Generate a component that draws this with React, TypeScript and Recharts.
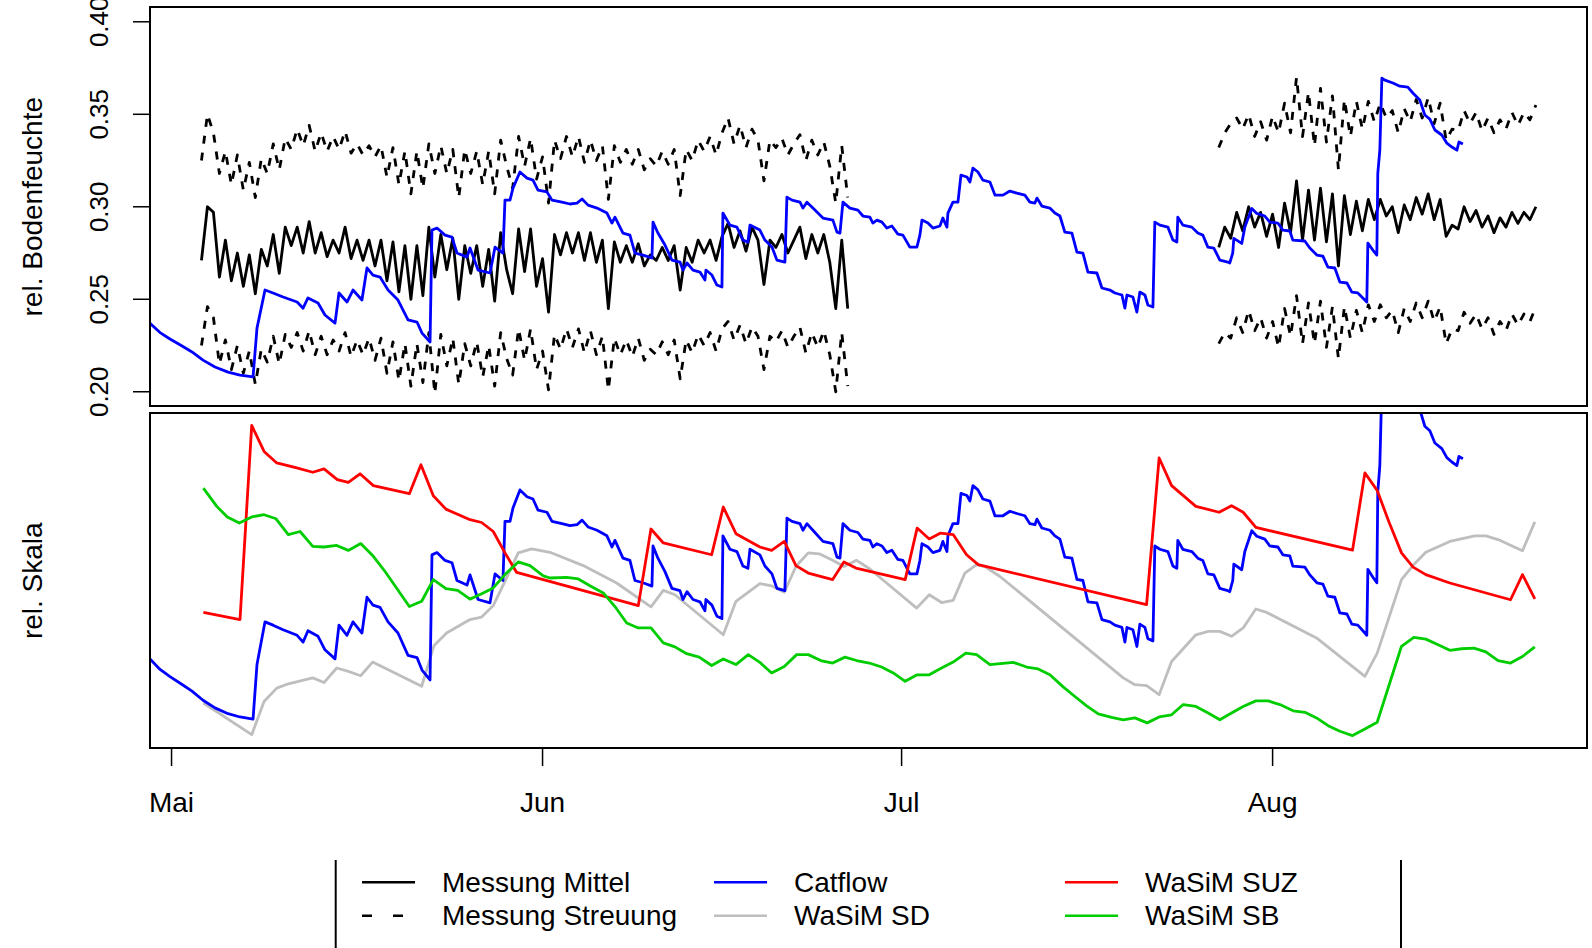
import React from 'react';
import { LineChart, Line, XAxis, YAxis } from 'recharts';

const FONT = '"Liberation Sans", Arial, Helvetica, sans-serif';

// x = days since 1 May
const monthTicks = [0, 31, 61, 92];
const monthLabels = ['Mai', 'Jun', 'Jul', 'Aug'];
const bodenTicks = [0.2, 0.25, 0.3, 0.35, 0.4];

// measurements, half-day steps
const mess1Start = 2.5;
const mittel1 = [
  0.271, 0.300, 0.297, 0.262, 0.282, 0.260, 0.275, 0.257, 0.274, 0.253,
  0.277, 0.268, 0.285, 0.264, 0.289, 0.279, 0.289, 0.275, 0.292, 0.275,
  0.286, 0.273, 0.282, 0.275, 0.289, 0.272, 0.282, 0.271, 0.282, 0.268,
  0.282, 0.260, 0.281, 0.254, 0.279, 0.250, 0.279, 0.252, 0.289, 0.262,
  0.285, 0.266, 0.283, 0.250, 0.279, 0.264, 0.279, 0.257, 0.277, 0.249,
  0.286, 0.266, 0.253, 0.288, 0.265, 0.288, 0.257, 0.272, 0.243, 0.285,
  0.274, 0.286, 0.275, 0.286, 0.271, 0.286, 0.270, 0.282, 0.245, 0.281,
  0.270, 0.279, 0.270, 0.280, 0.268, 0.274, 0.271, 0.278, 0.271, 0.279,
  0.255, 0.278, 0.270, 0.282, 0.275, 0.282, 0.271, 0.284, 0.291, 0.278,
  0.287, 0.276, 0.289, 0.282, 0.258, 0.282, 0.278, 0.285, 0.275, 0.282,
  0.289, 0.272, 0.285, 0.275, 0.285, 0.270, 0.245, 0.282, 0.245,
];
const oben1 = [
  0.325, 0.350, 0.340, 0.318, 0.330, 0.312, 0.328, 0.309, 0.324, 0.305,
  0.326, 0.318, 0.334, 0.320, 0.337, 0.331, 0.342, 0.333, 0.344, 0.330,
  0.340, 0.330, 0.338, 0.331, 0.341, 0.329, 0.334, 0.328, 0.333, 0.327,
  0.333, 0.316, 0.332, 0.312, 0.330, 0.307, 0.330, 0.310, 0.334, 0.318,
  0.333, 0.318, 0.331, 0.305, 0.331, 0.318, 0.330, 0.312, 0.330, 0.307,
  0.336, 0.322, 0.310, 0.338, 0.322, 0.337, 0.315, 0.327, 0.302, 0.336,
  0.326, 0.338, 0.327, 0.338, 0.324, 0.336, 0.325, 0.333, 0.304, 0.333,
  0.324, 0.331, 0.323, 0.331, 0.320, 0.326, 0.322, 0.330, 0.323, 0.331,
  0.306, 0.331, 0.325, 0.336, 0.330, 0.338, 0.328, 0.340, 0.348, 0.334,
  0.344, 0.332, 0.342, 0.336, 0.314, 0.336, 0.332, 0.337, 0.328, 0.334,
  0.339, 0.325, 0.336, 0.328, 0.335, 0.322, 0.302, 0.333, 0.305,
];
const unten1 = [
  0.225, 0.246, 0.240, 0.215, 0.228, 0.212, 0.225, 0.210, 0.222, 0.204,
  0.223, 0.216, 0.230, 0.215, 0.231, 0.224, 0.232, 0.222, 0.233, 0.220,
  0.230, 0.220, 0.228, 0.222, 0.232, 0.219, 0.228, 0.220, 0.229, 0.217,
  0.229, 0.210, 0.227, 0.206, 0.226, 0.203, 0.226, 0.205, 0.232, 0.199,
  0.231, 0.214, 0.229, 0.204, 0.226, 0.214, 0.227, 0.208, 0.225, 0.203,
  0.232, 0.218, 0.209, 0.234, 0.217, 0.234, 0.212, 0.222, 0.201, 0.231,
  0.223, 0.234, 0.224, 0.234, 0.221, 0.233, 0.220, 0.230, 0.201, 0.229,
  0.220, 0.228, 0.219, 0.229, 0.217, 0.223, 0.220, 0.227, 0.220, 0.228,
  0.207, 0.228, 0.221, 0.231, 0.225, 0.232, 0.222, 0.234, 0.238, 0.228,
  0.236, 0.226, 0.235, 0.230, 0.212, 0.230, 0.227, 0.233, 0.224, 0.230,
  0.235, 0.221, 0.232, 0.224, 0.233, 0.220, 0.200, 0.232, 0.203,
];

const mess2Start = 87.5;
const mittel2 = [
  0.278, 0.289, 0.283, 0.297, 0.287, 0.300, 0.289, 0.297, 0.284, 0.296,
  0.278, 0.302, 0.286, 0.314, 0.282, 0.309, 0.282, 0.310, 0.281, 0.307,
  0.268, 0.306, 0.285, 0.303, 0.287, 0.304, 0.293, 0.304, 0.295, 0.300,
  0.286, 0.301, 0.293, 0.305, 0.296, 0.307, 0.293, 0.304, 0.284, 0.290,
  0.288, 0.300, 0.292, 0.298, 0.289, 0.295, 0.286, 0.294, 0.289, 0.297,
  0.291, 0.297, 0.293, 0.300,
];
const oben2 = [
  0.332, 0.340, 0.345, 0.348, 0.342, 0.350, 0.338, 0.346, 0.336, 0.349,
  0.340, 0.356, 0.340, 0.370, 0.338, 0.362, 0.333, 0.364, 0.335, 0.360,
  0.320, 0.358, 0.338, 0.357, 0.342, 0.357, 0.346, 0.356, 0.348, 0.352,
  0.340, 0.353, 0.346, 0.358, 0.348, 0.359, 0.345, 0.356, 0.336, 0.342,
  0.341, 0.352, 0.345, 0.351, 0.341, 0.348, 0.340, 0.347, 0.342, 0.351,
  0.344, 0.351, 0.347, 0.355,
];
const unten2 = [
  0.226, 0.232, 0.229, 0.240, 0.232, 0.244, 0.233, 0.240, 0.229, 0.238,
  0.224, 0.245, 0.230, 0.252, 0.226, 0.248, 0.226, 0.249, 0.224, 0.246,
  0.218, 0.246, 0.229, 0.244, 0.232, 0.247, 0.238, 0.247, 0.240, 0.244,
  0.232, 0.245, 0.238, 0.248, 0.240, 0.249, 0.238, 0.246, 0.226, 0.234,
  0.233, 0.243, 0.237, 0.242, 0.234, 0.240, 0.231, 0.238, 0.233, 0.242,
  0.236, 0.242, 0.238, 0.246,
];

// Catflow [day, rel. Bodenfeuchte]
const catflow = [
  [-1.80, 0.237], [-0.96, 0.232], [-0.13, 0.2285], [0.88, 0.2247], [1.71, 0.2215], [2.63, 0.2171],
  [3.63, 0.2134], [4.72, 0.2106], [5.72, 0.209], [6.81, 0.208], [7.14, 0.2344], [7.81, 0.255],
  [8.48, 0.2534], [9.32, 0.2512], [10.49, 0.2485], [10.99, 0.2452], [11.40, 0.2507], [12.24, 0.248],
  [12.82, 0.2415], [13.66, 0.2371], [13.99, 0.2534], [14.66, 0.2485], [15.16, 0.255], [15.91, 0.2496],
  [16.33, 0.2669], [16.83, 0.2631], [17.42, 0.262], [18.09, 0.255], [18.92, 0.2496], [19.76, 0.2388],
  [20.51, 0.2377], [20.93, 0.2317], [21.60, 0.2269], [21.76, 0.2874], [22.18, 0.2885], [22.85, 0.2847],
  [23.43, 0.2836], [23.85, 0.275], [24.69, 0.2728], [24.94, 0.2777], [25.61, 0.2658], [26.61, 0.2642],
  [27.03, 0.2782], [27.69, 0.275], [27.86, 0.3036], [28.28, 0.3036], [28.53, 0.3101], [29.11, 0.3188],
  [29.70, 0.3155], [30.20, 0.3144], [30.62, 0.309], [31.37, 0.308], [31.79, 0.3036], [32.62, 0.3025],
  [33.29, 0.3015], [33.88, 0.302], [34.30, 0.3042], [34.80, 0.3009], [35.55, 0.2993], [36.38, 0.2966],
  [36.80, 0.2912], [37.05, 0.2944], [37.72, 0.2858], [38.30, 0.2847], [38.72, 0.275], [39.39, 0.2739],
  [40.14, 0.2723], [40.23, 0.2917], [40.64, 0.2858], [41.23, 0.2793], [41.81, 0.2712], [42.48, 0.2701],
  [42.73, 0.2658], [43.07, 0.2696], [43.57, 0.2658], [44.15, 0.2647], [44.57, 0.2604], [44.65, 0.2658],
  [45.15, 0.2631], [45.57, 0.2577], [45.99, 0.2566], [46.07, 0.2966], [46.66, 0.2901], [47.24, 0.289],
  [47.74, 0.282], [48.16, 0.2809], [48.33, 0.2901], [49.16, 0.2874], [49.58, 0.282], [50.17, 0.2782],
  [50.58, 0.2712], [51.25, 0.2701], [51.42, 0.3052], [51.84, 0.3036], [52.51, 0.3025], [52.76, 0.2993],
  [53.09, 0.3025], [53.76, 0.2982], [54.43, 0.2939], [55.26, 0.2928], [55.60, 0.2863], [55.85, 0.2858],
  [56.10, 0.3025], [56.68, 0.2993], [57.35, 0.2982], [57.77, 0.295], [58.35, 0.2944], [58.60, 0.2912],
  [58.94, 0.2928], [59.36, 0.2917], [59.77, 0.2885], [60.19, 0.2896], [60.69, 0.2852], [61.11, 0.2847],
  [61.69, 0.2782], [62.28, 0.2782], [62.53, 0.2847], [62.70, 0.2928], [63.20, 0.2912], [63.62, 0.2885],
  [64.20, 0.2896], [64.45, 0.2939], [64.79, 0.289], [64.87, 0.2966], [65.29, 0.3025], [65.71, 0.3025],
  [65.96, 0.3171], [66.46, 0.3161], [66.71, 0.3134], [66.96, 0.3209], [67.38, 0.3188], [67.79, 0.3144],
  [68.38, 0.3134], [68.80, 0.3063], [69.47, 0.3063], [70.05, 0.3085], [70.63, 0.3074], [71.30, 0.3063],
  [71.72, 0.3025], [72.14, 0.302], [72.31, 0.3047], [72.72, 0.3004], [73.39, 0.2993], [73.81, 0.2966],
  [74.23, 0.295], [74.64, 0.2863], [75.23, 0.2858], [75.65, 0.2755], [76.15, 0.275], [76.57, 0.2647],
  [77.32, 0.2642], [77.74, 0.2561], [78.41, 0.255], [78.82, 0.2534], [79.41, 0.2523], [79.66, 0.2452],
  [79.83, 0.2523], [80.33, 0.2512], [80.66, 0.2431], [80.91, 0.2539], [81.33, 0.2523], [81.58, 0.2469],
  [82.00, 0.2458], [82.16, 0.2917], [82.58, 0.2901], [83.25, 0.289], [83.67, 0.282], [84.00, 0.2809],
  [84.08, 0.2944], [84.50, 0.2901], [85.25, 0.289], [85.75, 0.2858], [86.17, 0.2847], [86.59, 0.2782],
  [87.09, 0.2777], [87.59, 0.2712], [88.26, 0.2701], [88.42, 0.2696], [88.67, 0.275], [88.76, 0.2829],
  [89.42, 0.2802], [89.68, 0.289], [90.26, 0.2991], [90.68, 0.2964], [91.35, 0.295], [91.77, 0.2917],
  [92.44, 0.2912], [92.86, 0.2874], [93.44, 0.2869], [93.69, 0.282], [94.69, 0.2815], [95.11, 0.2777],
  [95.70, 0.2739], [96.20, 0.2733], [96.62, 0.2674], [97.20, 0.2669], [97.62, 0.2593], [98.21, 0.2588],
  [98.62, 0.2539], [99.12, 0.2534], [99.71, 0.2496], [99.87, 0.2485], [99.96, 0.2804], [100.38, 0.2766],
  [100.71, 0.2739], [100.79, 0.318], [100.96, 0.3306], [101.13, 0.3695], [101.38, 0.3685], [102.05, 0.3669],
  [102.63, 0.3652], [103.30, 0.3647], [103.72, 0.3615], [104.30, 0.3577], [104.72, 0.3496], [105.14, 0.3474],
  [105.56, 0.3415], [106.14, 0.3388], [106.56, 0.3344], [106.98, 0.3323], [107.40, 0.3306], [107.57, 0.335],
  [107.90, 0.3339],
];

// WaSiM, relative scale [day, rel]
const wasimSUZ = [
  [2.66, 0.397], [5.72, 0.374], [6.70, 1.0], [7.73, 0.916], [8.79, 0.879], [10.46, 0.863],
  [11.80, 0.849], [12.74, 0.860], [13.85, 0.825], [14.77, 0.816], [15.75, 0.844], [16.86, 0.806],
  [19.87, 0.780], [20.84, 0.873], [21.87, 0.773], [22.93, 0.730], [24.94, 0.696], [25.91, 0.687],
  [26.88, 0.658], [27.86, 0.589], [28.84, 0.526], [39.0, 0.419], [40.06, 0.666], [41.09, 0.621],
  [45.13, 0.583], [46.1, 0.737], [47.16, 0.651], [49.16, 0.608], [50.14, 0.597], [51.2, 0.626],
  [52.17, 0.548], [53.2, 0.524], [55.24, 0.503], [56.18, 0.560], [57.18, 0.540], [61.3, 0.503],
  [62.3, 0.669], [63.31, 0.634], [64.26, 0.653], [65.31, 0.648], [66.43, 0.583], [67.4, 0.551],
  [81.47, 0.422], [82.52, 0.895], [83.56, 0.806], [85.59, 0.739], [87.53, 0.720], [88.57, 0.741],
  [89.54, 0.720], [90.6, 0.671], [98.68, 0.598], [99.71, 0.847], [100.74, 0.790], [101.74, 0.687],
  [102.77, 0.589], [103.74, 0.543], [104.8, 0.519], [106.81, 0.492], [111.88, 0.438], [112.88, 0.519],
  [113.91, 0.441],
];
const wasimSD = [
  [2.66, 0.105], [6.70, 0.003], [7.73, 0.110], [8.79, 0.153], [9.76, 0.167], [11.80, 0.186],
  [12.74, 0.171], [13.80, 0.218], [14.77, 0.207], [15.80, 0.193], [16.80, 0.237], [20.90, 0.159],
  [21.93, 0.290], [22.98, 0.331], [24.94, 0.374], [25.91, 0.382], [26.88, 0.419], [27.86, 0.497],
  [28.97, 0.589], [30.09, 0.602], [31.62, 0.591], [34.40, 0.548], [37.19, 0.492], [40.06, 0.415],
  [41.09, 0.468], [42.06, 0.454], [46.10, 0.325], [47.16, 0.433], [49.16, 0.490], [50.14, 0.483],
  [51.20, 0.462], [52.17, 0.545], [53.20, 0.589], [54.12, 0.586], [55.24, 0.565], [56.18, 0.545],
  [57.24, 0.565], [58.35, 0.537], [62.26, 0.411], [63.31, 0.454], [64.34, 0.429], [65.31, 0.436],
  [66.29, 0.524], [67.27, 0.551], [67.96, 0.545], [69.22, 0.513], [79.52, 0.186], [80.49, 0.164],
  [81.47, 0.161], [82.52, 0.132], [83.56, 0.239], [85.59, 0.325], [86.62, 0.336], [87.59, 0.336],
  [88.57, 0.320], [89.54, 0.347], [90.60, 0.408], [91.50, 0.397], [95.67, 0.315], [99.71, 0.191],
  [100.74, 0.266], [102.77, 0.503], [103.74, 0.549], [104.80, 0.591], [106.81, 0.626], [108.90, 0.644],
  [109.82, 0.644], [110.84, 0.632], [112.88, 0.596], [113.91, 0.689],
];
const wasimSB = [
  [2.66, 0.798], [3.78, 0.739], [4.66, 0.705], [5.66, 0.685], [6.70, 0.705], [7.73, 0.712],
  [8.73, 0.699], [9.76, 0.648], [10.74, 0.658], [11.80, 0.610], [12.74, 0.608], [13.80, 0.613],
  [14.77, 0.597], [15.81, 0.619], [16.86, 0.578], [17.84, 0.529], [19.87, 0.416], [20.90, 0.433],
  [21.87, 0.503], [22.93, 0.474], [23.91, 0.468], [24.94, 0.440], [25.91, 0.457], [26.88, 0.476],
  [27.86, 0.519], [28.97, 0.560], [29.95, 0.548], [31.06, 0.515], [31.62, 0.508], [33.02, 0.510],
  [33.99, 0.505], [34.96, 0.483], [36.07, 0.460], [37.05, 0.416], [38.03, 0.363], [39.0, 0.347],
  [40.06, 0.347], [41.09, 0.299], [42.06, 0.286], [43.04, 0.264], [44.09, 0.253], [45.13, 0.226],
  [46.1, 0.247], [47.16, 0.229], [48.19, 0.261], [49.16, 0.236], [50.14, 0.202], [51.2, 0.223],
  [52.23, 0.261], [53.2, 0.261], [54.24, 0.242], [55.24, 0.234], [56.27, 0.253], [57.24, 0.242],
  [58.3, 0.234], [59.33, 0.221], [60.3, 0.202], [61.3, 0.175], [62.3, 0.196], [63.31, 0.196],
  [64.34, 0.218], [65.31, 0.237], [66.37, 0.266], [67.27, 0.261], [68.38, 0.229], [70.33, 0.236],
  [71.45, 0.221], [72.41, 0.215], [73.39, 0.196], [74.5, 0.157], [75.48, 0.126], [76.46, 0.096],
  [77.43, 0.070], [78.55, 0.059], [79.52, 0.051], [80.49, 0.057], [81.52, 0.041], [82.52, 0.060],
  [83.56, 0.067], [84.53, 0.100], [85.59, 0.094], [86.62, 0.073], [87.59, 0.051], [88.57, 0.073],
  [89.54, 0.094], [90.6, 0.112], [91.63, 0.112], [92.61, 0.100], [93.72, 0.080], [94.70, 0.075],
  [95.67, 0.057], [96.64, 0.032], [97.62, 0.014], [98.68, 0.0], [99.71, 0.021], [100.74, 0.043],
  [101.74, 0.164], [102.77, 0.288], [103.80, 0.317], [104.8, 0.311], [105.83, 0.293], [106.81, 0.275],
  [107.79, 0.280], [108.82, 0.282], [109.82, 0.270], [110.84, 0.242], [111.88, 0.234], [112.88, 0.255],
  [113.91, 0.286],
];

const X_DOMAIN = [-1.8, 118.27];
const BLUE = '#0000FF';
const RED = '#FF0000';
const GREY = '#BEBEBE';
const GREEN = '#00CD00';
const DASH = '8 9';

const halfDays = (start: number, vals: number[]) => vals.map((v, i) => ({ d: start + i * 0.5, v }));
const pairs = (arr: number[][]) => arr.map(([d, v]) => ({ d, v }));
// same Catflow run on the relative scale of the lower panel
const catflowRel = catflow.map(([d, v]) => ({ d, v: (v - 0.2) / 0.15 }));

const axisLine = { stroke: '#000', strokeWidth: 2 };

const BodenTick = (props: any) => {
  const { y, payload } = props;
  return (
    <text x={108} y={y} transform={`rotate(-90 108 ${y})`} textAnchor="middle"
      fontSize={26} fontFamily={FONT} fill="#000">
      {payload.value.toFixed(2)}
    </text>
  );
};

const MonthTick = (props: any) => {
  const { x, payload } = props;
  const i = monthTicks.indexOf(payload.value);
  return (
    <text x={x} y={398.7} textAnchor="middle" fontSize={28} fontFamily={FONT} fill="#000">
      {monthLabels[i]}
    </text>
  );
};

const lineProps = {
  type: 'linear' as const, dot: false, isAnimationActive: false, strokeWidth: 2.8,
  strokeLinejoin: 'round' as const, xAxisId: 'b', yAxisId: 'l', dataKey: 'v',
};

const legendItems = [
  { x: 362, row: 0, label: 'Messung Mittel', color: '#000', dash: undefined },
  { x: 362, row: 1, label: 'Messung Streuung', color: '#000', dash: '10 21' },
  { x: 714, row: 0, label: 'Catflow', color: BLUE, dash: undefined },
  { x: 714, row: 1, label: 'WaSiM SD', color: GREY, dash: undefined },
  { x: 1065, row: 0, label: 'WaSiM SUZ', color: RED, dash: undefined },
  { x: 1065, row: 1, label: 'WaSiM SB', color: GREEN, dash: undefined },
];

export default function App() {
  return (
    <div style={{ position: 'absolute', left: 0, top: 0, width: 1592, height: 948, background: '#fff', overflow: 'hidden' }}>
      <div style={{ position: 'absolute', left: 0, top: 0 }}>
        <LineChart width={1592} height={440} margin={{ top: 7, right: 5, bottom: 34, left: 0 }}>
          <XAxis xAxisId="b" type="number" dataKey="d" domain={X_DOMAIN} allowDataOverflow hide />
          <YAxis yAxisId="l" type="number" domain={[0.1923, 0.408]} allowDataOverflow ticks={bodenTicks} width={150}
            tickSize={17} tick={BodenTick} tickLine={{ stroke: '#000', strokeWidth: 1.5 }} axisLine={axisLine} />
          <Line {...lineProps} data={halfDays(mess1Start, mittel1)} stroke="#000" />
          <Line {...lineProps} data={halfDays(mess2Start, mittel2)} stroke="#000" />
          <Line {...lineProps} data={halfDays(mess1Start, oben1)} stroke="#000" strokeDasharray={DASH} />
          <Line {...lineProps} data={halfDays(mess2Start, oben2)} stroke="#000" strokeDasharray={DASH} />
          <Line {...lineProps} data={halfDays(mess1Start, unten1)} stroke="#000" strokeDasharray={DASH} />
          <Line {...lineProps} data={halfDays(mess2Start, unten2)} stroke="#000" strokeDasharray={DASH} />
          <Line {...lineProps} data={pairs(catflow)} stroke={BLUE} />
        </LineChart>
      </div>
      <div style={{ position: 'absolute', left: 0, top: 413 }}>
        <LineChart width={1592} height={420} margin={{ top: 0, right: 5, bottom: 0, left: 0 }}>
          <XAxis xAxisId="b" type="number" dataKey="d" domain={X_DOMAIN} allowDataOverflow height={85}
            ticks={monthTicks} interval={0} tickSize={18} tick={MonthTick}
            tickLine={{ stroke: '#000', strokeWidth: 1.5 }} axisLine={axisLine} />
          <YAxis yAxisId="l" type="number" domain={[-0.04, 1.04]} allowDataOverflow width={150}
            tick={false} tickLine={false} axisLine={axisLine} />
          <Line {...lineProps} data={pairs(wasimSD)} stroke={GREY} />
          <Line {...lineProps} data={catflowRel} stroke={BLUE} />
          <Line {...lineProps} data={pairs(wasimSUZ)} stroke={RED} />
          <Line {...lineProps} data={pairs(wasimSB)} stroke={GREEN} />
        </LineChart>
      </div>
      <svg width={1592} height={948} style={{ position: 'absolute', left: 0, top: 0, pointerEvents: 'none' }}>
        <rect x={150} y={7} width={1437} height={399} fill="none" stroke="#000" strokeWidth={2} />
        <rect x={150} y={413} width={1437} height={335} fill="none" stroke="#000" strokeWidth={2} />
        <g fontFamily={FONT} fontSize={28} fill="#000">
          <text x={42} y={206.7} transform="rotate(-90 42 206.7)" textAnchor="middle">rel. Bodenfeuchte</text>
          <text x={42} y={580.7} transform="rotate(-90 42 580.7)" textAnchor="middle">rel. Skala</text>
        </g>
        <line x1={335.7} y1={860} x2={335.7} y2={948} stroke="#000" strokeWidth={2} />
        <line x1={1401} y1={860} x2={1401} y2={948} stroke="#000" strokeWidth={2} />
        {legendItems.map((it) => {
          const ly = it.row === 0 ? 882.3 : 915.7;
          return (
            <g key={it.label}>
              <line x1={it.x} y1={ly} x2={it.x + 53} y2={ly} stroke={it.color} strokeWidth={2.6}
                strokeDasharray={it.dash} />
              <text x={it.x + 80} y={ly + 9.6} fontFamily={FONT} fontSize={28} fill="#000">{it.label}</text>
            </g>
          );
        })}
      </svg>
    </div>
  );
}
